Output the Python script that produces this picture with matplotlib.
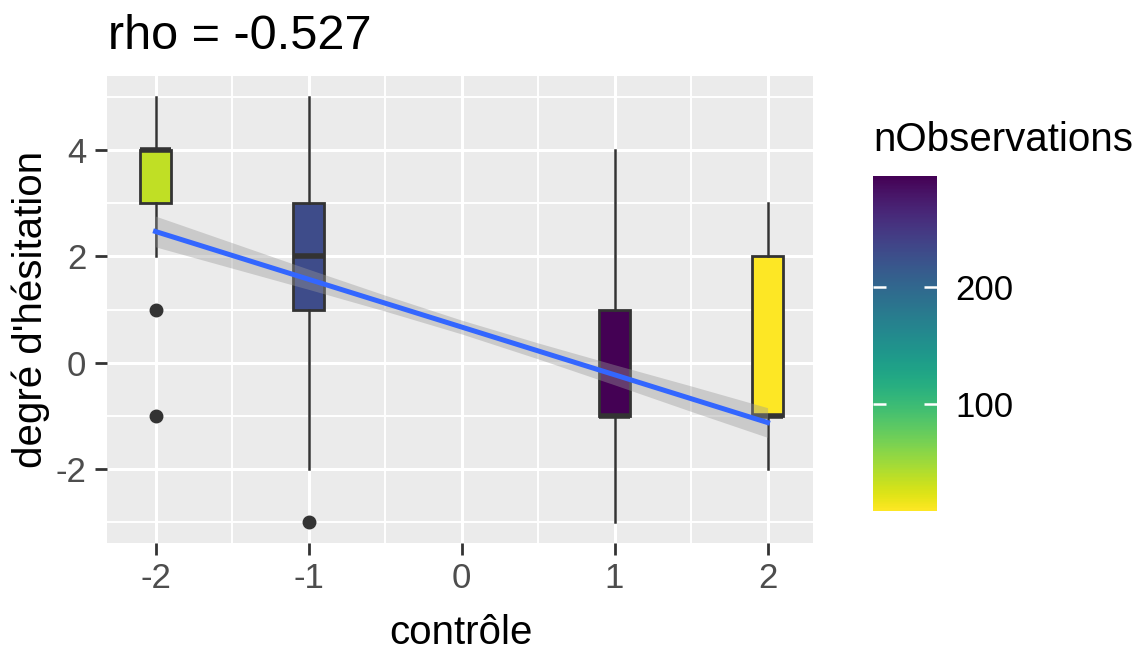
#!/usr/bin/env python3
# -*- coding: utf-8 -*-
"""Boxplots of hesitation degree by control level, with lm fit and colourbar."""

import matplotlib

matplotlib.use("Agg")
import matplotlib.pyplot as plt
from matplotlib import cm, colors

plt.rcParams["font.family"] = ["Liberation Sans", "DejaVu Sans"]
plt.rcParams["axes.unicode_minus"] = False

# data
CONTROLE = [-2, -1, 1, 2]
N_OBS = [36, 230, 295, 9]
Q1 = [3, 1, -1, -1]
MEDIAN = [4, 2, -1, -1]
Q3 = [4, 3, 1, 2]
WHISK_LO = [2, -2, -3, -2]
WHISK_HI = [5, 5, 4, 3]
OUTLIERS = [[1, -1], [-3], [], []]

FIT_X = [-2, 2]
FIT_Y = [2.47, -1.13]
BAND_X = [-2, -1.5, -1, -0.5, 0, 0.5, 1, 1.5, 2]
BAND_LO = [2.18, 1.78, 1.38, 0.97, 0.54, 0.07, -0.42, -0.92, -1.41]
BAND_HI = [2.76, 2.26, 1.76, 1.27, 0.80, 0.37, -0.04, -0.44, -0.85]

X_TICKS = [-2, -1, 0, 1, 2]
Y_TICKS = [-2, 0, 2, 4]
CB_TICKS = [100, 200]
N_RANGE = (9, 295)

DARK = "#333333"

fig = plt.figure(figsize=(11.44, 6.53), dpi=100)
ax = fig.add_axes([107 / 1144, 1 - 543 / 653, 706 / 1144, 467 / 653])
ax.set_facecolor("#EBEBEB")
for sp in ax.spines.values():
    sp.set_visible(False)

norm = colors.Normalize(*N_RANGE)
cmap = plt.get_cmap("viridis_r")

stats = [
    dict(med=m, q1=a, q3=b, whislo=lo, whishi=hi, fliers=f)
    for m, a, b, lo, hi, f in zip(MEDIAN, Q1, Q3, WHISK_LO, WHISK_HI, OUTLIERS)
]
bp = ax.bxp(
    stats,
    positions=CONTROLE,
    widths=0.2,
    patch_artist=True,
    showcaps=False,
    manage_ticks=False,
    boxprops=dict(edgecolor=DARK, linewidth=2.0),
    whiskerprops=dict(color=DARK, linewidth=1.8),
    medianprops=dict(color=DARK, linewidth=4, solid_capstyle="butt"),
    flierprops=dict(marker="o", markerfacecolor=DARK, markeredgecolor=DARK, markersize=9),
    zorder=2,
)
for patch, n in zip(bp["boxes"], N_OBS):
    patch.set_facecolor(cmap(norm(n)))

ax.fill_between(BAND_X, BAND_LO, BAND_HI, color="#999999", alpha=0.4, linewidth=0, zorder=3)
ax.plot(FIT_X, FIT_Y, color="#3366FF", linewidth=3.6, zorder=4)

ax.set_xlim(-2.317, 2.297)
ax.set_ylim(-3.4, 5.4)
ax.set_xticks(X_TICKS)
ax.set_yticks(Y_TICKS)
ax.set_xticks([-1.5, -0.5, 0.5, 1.5], minor=True)
ax.set_yticks([-3, -1, 1, 3, 5], minor=True)
ax.set_axisbelow(True)
ax.grid(which="major", color="white", linewidth=2.2)
ax.grid(which="minor", color="white", linewidth=1.4)
ax.tick_params(which="major", length=8.5, width=2.0, color=DARK,
               labelsize=25, labelcolor="#4D4D4D")
ax.tick_params(axis="x", pad=5)
ax.tick_params(axis="y", pad=6.5)
ax.tick_params(which="minor", length=0)

fig.text(108 / 1144, 1 - 49 / 653, "rho = -0.527", fontsize=35, va="baseline", ha="left")
fig.text(31 / 1144, 1 - 309.5 / 653, "degré d'hésitation", fontsize=29,
         rotation=90, ha="center", va="center")
fig.text(461 / 1144, 1 - 644 / 653, "contrôle", fontsize=29, ha="center", va="baseline")

# colour legend
fig.text(873 / 1144, 1 - 151 / 653, "nObservations", fontsize=29, ha="left", va="baseline")
cax = fig.add_axes([873 / 1144, 1 - 511 / 653, 64 / 1144, 335 / 653])
cb = fig.colorbar(cm.ScalarMappable(norm=norm, cmap=cmap), cax=cax)
cb.outline.set_visible(False)
cb.set_ticks(CB_TICKS)
cax.tick_params(which="major", direction="in", length=9.5, width=1.8, color="white",
                left=True, right=True, labelleft=False, labelright=True,
                labelsize=25, labelcolor="black", pad=13)
cax.tick_params(which="minor", length=0)

fig.savefig("out.png", dpi=100)
